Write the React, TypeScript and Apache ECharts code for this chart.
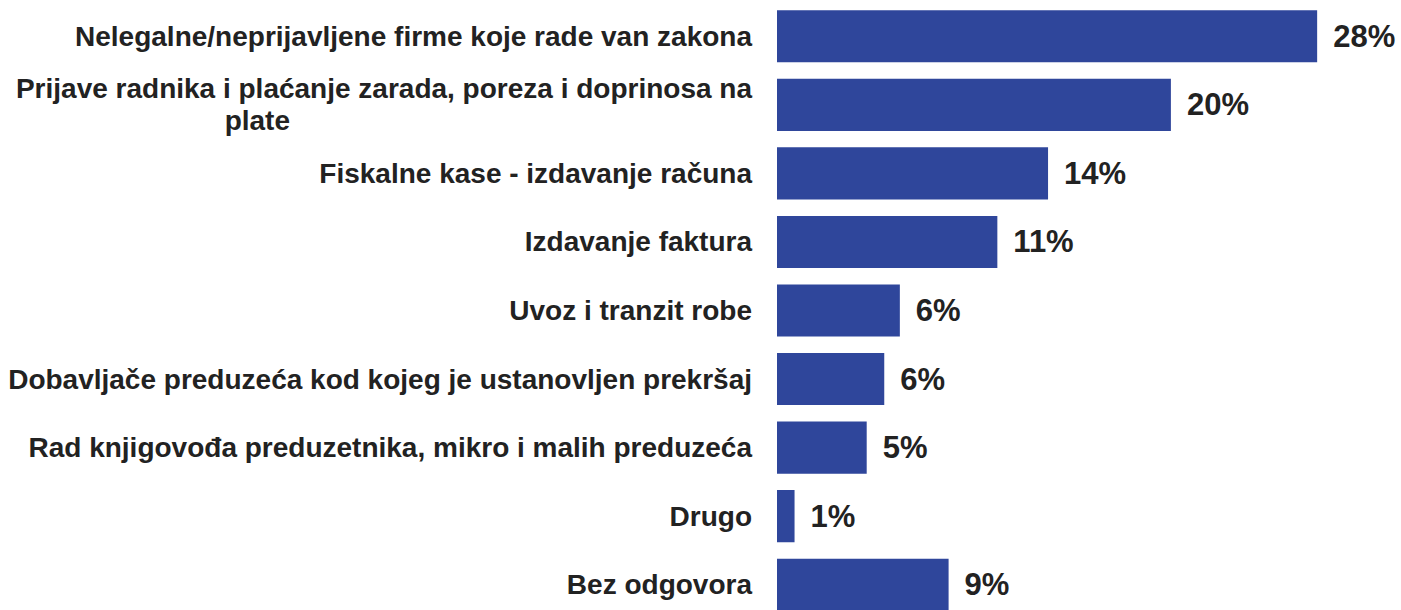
import React, { useEffect, useRef } from "react";
import * as echarts from "echarts";

const categories = [
  "Nelegalne/neprijavljene firme koje rade van zakona",
  "Prijave radnika i plaćanje zarada, poreza i doprinosa na\nplate",
  "Fiskalne kase - izdavanje računa",
  "Izdavanje faktura",
  "Uvoz i tranzit robe",
  "Dobavljače preduzeća kod kojeg je ustanovljen prekršaj",
  "Rad knjigovođa preduzetnika, mikro i malih preduzeća",
  "Drugo",
  "Bez odgovora",
];
const values = [27.7, 20.2, 13.9, 11.3, 6.3, 5.5, 4.6, 0.9, 8.8];

export default function App() {
  const ref = useRef<HTMLDivElement>(null);
  useEffect(() => {
    if (!ref.current) return;
    const chart = echarts.init(ref.current, undefined, { renderer: "svg" });
    const font = "'Liberation Sans', Arial, sans-serif";
    const fs = 28;
    chart.setOption({
      animation: false,
      grid: { left: 777, top: 2, width: 585, height: 617, outerBoundsMode: "none", containLabel: false },
      xAxis: {
        type: "value",
        min: 0,
        max: 30,
        show: false,
      },
      yAxis: {
        type: "category",
        inverse: true,
        data: categories,
        axisLine: { show: false },
        axisTick: { show: false },
        axisLabel: {
          margin: 25,
          color: "#222222",
          fontFamily: font,
          fontWeight: "bold",
          fontSize: fs,
          lineHeight: 32,
          formatter: (v: string) => {
            if (v.includes("\n")) {
              const [a, b] = v.split("\n");
              return `{a|${a}}\n{p|${b}}`;
            }
            return v;
          },
          rich: {
            a: { fontFamily: font, fontWeight: "bold", fontSize: fs, color: "#222222", lineHeight: 32 },
            p: { fontFamily: font, fontWeight: "bold", fontSize: fs, color: "#222222", lineHeight: 32, padding: [0, 462, 0, 0] },
          },
        },
      },
      series: [
        {
          type: "bar",
          data: values,
          barCategoryGap: "24%",
          itemStyle: { color: "#2f469b" },
          label: {
            show: true,
            position: "right",
            distance: 16,
            color: "#222222",
            fontFamily: font,
            fontWeight: "bold",
            fontSize: 31,
            formatter: (p: any) => `${Math.round(p.value)}%`,
          },
        },
      ],
    });
    return () => chart.dispose();
  }, []);
  return (
    <div
      ref={ref}
      style={{ position: "absolute", left: 0, top: 0, width: 1401, height: 610, background: "#fff" }}
    />
  );
}
